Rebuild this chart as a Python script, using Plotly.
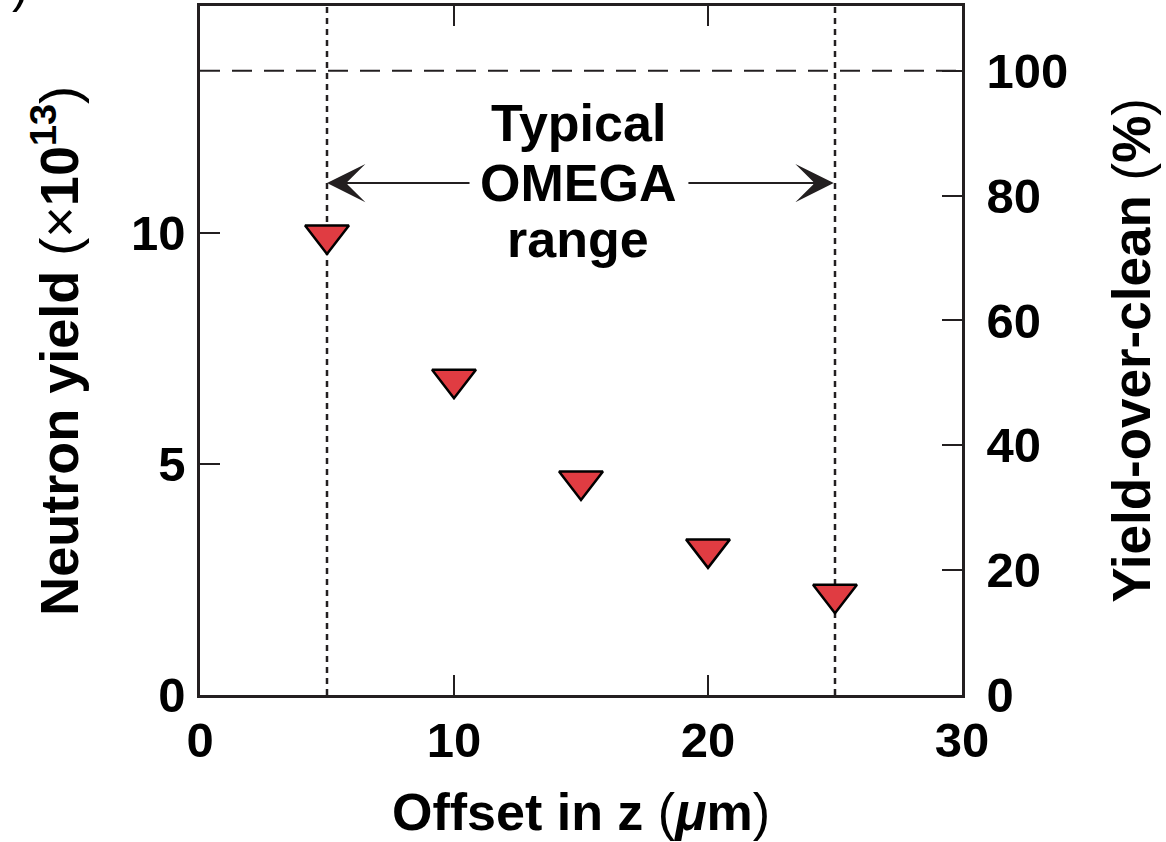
import plotly.graph_objects as go

# Data
offset_z = [5, 10, 15, 20, 25]                  # Offset in z (µm)
neutron_yield = [9.95, 6.83, 4.63, 3.16, 2.18]  # x1e13
clean_yield = 13.5                              # yield (x1e13) equal to 100 % yield-over-clean
omega_range = [5, 25]

x_ticks = [0, 10, 20, 30]
y_ticks = [0, 5, 10]
y2_ticks = [0, 20, 40, 60, 80, 100]

y_max = 14.9
y2_max = y_max / clean_yield * 100

FONT = "Liberation Sans, Arial, Helvetica, sans-serif"
INK = "#231f20"
FS_TICK = 49
FS_TITLE = 52

fig = go.Figure()

fig.add_trace(go.Scatter(
    x=offset_z, y=neutron_yield, mode="markers",
    marker=dict(symbol="triangle-down", size=38, color="#e03c42",
                line=dict(color="black", width=2.5)),
    showlegend=False, cliponaxis=False,
))
# invisible trace to activate the right axis
fig.add_trace(go.Scatter(x=[0], y=[0], yaxis="y2", mode="markers",
                         marker=dict(opacity=0), showlegend=False, hoverinfo="skip"))

# dotted verticals marking the typical OMEGA range
for xv in omega_range:
    fig.add_shape(type="line", xref="x", yref="paper", x0=xv, x1=xv, y0=0, y1=1,
                  line=dict(color=INK, width=2.5, dash="6px,5px"), layer="below")

# dashed 100 % line
fig.add_shape(type="line", xref="x", yref="y2", x0=0, x1=30, y0=100, y1=100,
              line=dict(color=INK, width=2.2, dash="20px,12px"), layer="below")

arrow_y = 11.07
fig.add_annotation(x=omega_range[0], y=arrow_y, ax=10.67, ay=arrow_y, axref="x", ayref="y",
                   xref="x", yref="y", text="", showarrow=True, arrowhead=3,
                   arrowsize=3.2, arrowwidth=2, arrowcolor=INK, standoff=0)
fig.add_annotation(x=omega_range[1] - 0.05, y=arrow_y, ax=19.17, ay=arrow_y, axref="x", ayref="y",
                   xref="x", yref="y", text="", showarrow=True, arrowhead=3,
                   arrowsize=3.2, arrowwidth=2, arrowcolor=INK, standoff=0)

for txt, yv in [("Typical", 12.38), ("OMEGA", 11.07), ("range", 9.86)]:
    fig.add_annotation(x=14.9, y=yv, xref="x", yref="y", text="<b>%s</b>" % txt,
                       showarrow=False, font=dict(family=FONT, size=FS_TITLE, color="black"),
                       xanchor="center", yanchor="middle")

# axis titles
fig.add_annotation(x=-0.19, y=0.5, xref="paper", yref="paper", textangle=-90,
                   text="<b>Neutron yield </b>(×<b>10<sup>13</sup></b>)",
                   showarrow=False, font=dict(family=FONT, size=FS_TITLE + 2, color="black"),
                   xanchor="center", yanchor="middle")
fig.add_annotation(x=1.222, y=0.5, xref="paper", yref="paper", textangle=-90,
                   text="<b>Yield-over-clean </b>(<b>%</b>)",
                   showarrow=False, font=dict(family=FONT, size=FS_TITLE + 1, color="black"),
                   xanchor="center", yanchor="middle")
fig.add_annotation(x=0.5, y=-0.17, xref="paper", yref="paper",
                   text="<b>Offset in z </b>(<i><b>μ</b></i><b>m</b>)",
                   showarrow=False, font=dict(family=FONT, size=FS_TITLE, color="black"),
                   xanchor="center", yanchor="middle")
# fragment of panel label at the top-left edge
fig.add_annotation(x=-0.236, y=1.03, xref="paper", yref="paper", text=")",
                   showarrow=False, font=dict(family=FONT, size=FS_TICK, color="black"),
                   xanchor="center", yanchor="middle")

axis_common = dict(showline=True, linecolor=INK, linewidth=2.5, ticks="inside",
                   ticklen=20, tickwidth=2.2, tickcolor=INK, showgrid=False, zeroline=False,
                   automargin=False,
                   tickfont=dict(family=FONT, size=FS_TICK, color="black", weight="bold"))

fig.update_layout(
    template="none",
    width=1166, height=842,
    margin=dict(l=200, r=204, t=6, b=147, autoexpand=False),
    paper_bgcolor="white", plot_bgcolor="white",
    xaxis=dict(range=[0, 30], tickvals=x_ticks, mirror="ticks", **axis_common),
    yaxis=dict(range=[0, y_max], tickvals=y_ticks, ticklabelstandoff=2, **axis_common),
    yaxis2=dict(range=[0, y2_max], tickvals=y2_ticks, overlaying="y", side="right",
                ticklabelstandoff=12, **axis_common),
)

fig.write_html("out.html")
